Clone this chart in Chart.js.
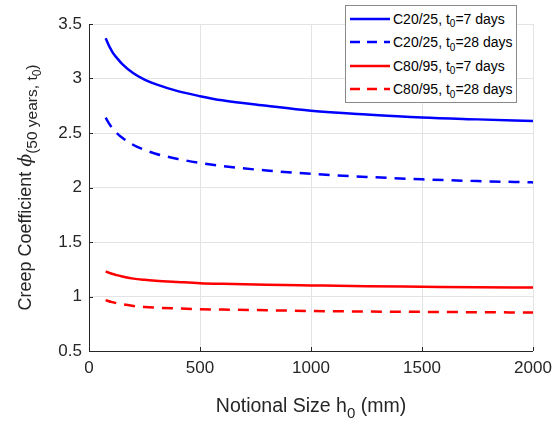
<!DOCTYPE html>
<html>
<head>
<meta charset="utf-8">
<script src="https://cdn.jsdelivr.net/npm/chart.js@4"></script>
<style>
  html, body { margin: 0; padding: 0; background: #fff; }
  #wrap { position: relative; width: 560px; height: 428px; }
  #legend {
    position: absolute; left: 345px; top: 5px; width: 172px; height: 98px;
    border: 1px solid #8a8a8a; background: #fff; box-sizing: border-box;
    font-family: "Liberation Sans", Arial, sans-serif; font-size: 14px; color: #000;
    padding-top: 1px;
  }
  #legend .row { height: 23.5px; display: flex; align-items: center; white-space: nowrap; }
  #legend svg { margin-left: 3px; margin-right: 2px; }
  #legend .sub { font-size: 10px; position: relative; top: 5px; }
</style>
</head>
<body>
<div id="wrap">
  <canvas id="creepChart" width="560" height="428"></canvas>
  <div id="legend"></div>
</div>
<script>
// Notional size h0 (mm) - sample positions
const h0 = [75, 90, 100, 110, 125, 150, 200, 250, 300, 400, 500, 600, 800, 1000, 1250, 1500, 1750, 2000];

// Creep coefficient phi(50 years, t0)
const c2025_t7  = [3.37, 3.30, 3.263, 3.228, 3.19, 3.132, 3.048, 2.99, 2.948, 2.884, 2.838, 2.80, 2.75, 2.705, 2.67, 2.642, 2.625, 2.61];
const c2025_t28 = [2.64, 2.588, 2.558, 2.532, 2.50, 2.456, 2.39, 2.345, 2.31, 2.262, 2.225, 2.196, 2.156, 2.125, 2.097, 2.075, 2.059, 2.047];
const c8095_t7  = [1.229, 1.218, 1.211, 1.205, 1.196, 1.183, 1.164, 1.153, 1.145, 1.133, 1.122, 1.116, 1.108, 1.102, 1.095, 1.09, 1.085, 1.082];
const c8095_t28 = [0.967, 0.957, 0.951, 0.946, 0.939, 0.929, 0.913, 0.904, 0.898, 0.89, 0.884, 0.88, 0.874, 0.867, 0.862, 0.859, 0.856, 0.853];

const xTicks = [0, 500, 1000, 1500, 2000];
const yTicks = [0.5, 1, 1.5, 2, 2.5, 3, 3.5];

const seriesInfo = [
    { name: 'C20/25', t0: '7',  data: c2025_t7,  color: '#0000ff', dash: [] },
    { name: 'C20/25', t0: '28', data: c2025_t28, color: '#0000ff', dash: [11, 8] },
    { name: 'C80/95', t0: '7',  data: c8095_t7,  color: '#ff0000', dash: [] },
    { name: 'C80/95', t0: '28', data: c8095_t28, color: '#ff0000', dash: [11, 8] }
];

const FONT = '"Liberation Sans", Arial, sans-serif';
const AXIS_COLOR = '#262626';

// ----------------------------------------------------
// HTML legend (subscripts need real markup)
// ----------------------------------------------------
const legendEl = document.getElementById('legend');
seriesInfo.forEach(s => {
    const dashAttr = s.dash.length ? ' stroke-dasharray="10 7"' : '';
    legendEl.insertAdjacentHTML('beforeend',
        '<div class="row"><svg width="42" height="6"><line x1="1" y1="3" x2="41" y2="3" stroke="' + s.color +
        '" stroke-width="2.5"' + dashAttr + '/></svg>' +
        s.name + ', t<span class="sub">0</span>=' + s.t0 + ' days</div>');
});

// ----------------------------------------------------
// Axis titles and inner tick marks (MATLAB style)
// ----------------------------------------------------
const axisDecor = {
    id: 'axisDecor',
    afterDraw(chart) {
        const ctx = chart.ctx;
        const area = chart.chartArea;
        const xs = chart.scales.x, ys = chart.scales.y;
        ctx.save();

        // axis lines + inward ticks
        ctx.strokeStyle = AXIS_COLOR;
        ctx.lineWidth = 1;
        ctx.beginPath();
        ctx.moveTo(area.left + 0.5, area.top);
        ctx.lineTo(area.left + 0.5, area.bottom + 0.5);
        ctx.lineTo(area.right, area.bottom + 0.5);
        xTicks.forEach(v => {
            const px = Math.round(xs.getPixelForValue(v)) + 0.5;
            ctx.moveTo(px, area.bottom);
            ctx.lineTo(px, area.bottom - 4);
        });
        yTicks.forEach(v => {
            const py = Math.round(ys.getPixelForValue(v)) + 0.5;
            ctx.moveTo(area.left, py);
            ctx.lineTo(area.left + 4, py);
        });
        ctx.stroke();

        ctx.fillStyle = AXIS_COLOR;
        ctx.textBaseline = 'alphabetic';

        // x title: Notional Size h0 (mm)
        const bigX = '19.5px ' + FONT, smallX = '15px ' + FONT;
        ctx.font = bigX;
        const p1 = 'Notional Size h', p3 = ' (mm)';
        const w1 = ctx.measureText(p1).width, w3 = ctx.measureText(p3).width;
        ctx.font = smallX;
        const w2 = ctx.measureText('0').width;
        let x0 = (area.left + area.right) / 2 - (w1 + w2 + w3) / 2;
        const base = 412;
        ctx.font = bigX; ctx.fillText(p1, x0, base);
        ctx.font = smallX; ctx.fillText('0', x0 + w1, base + 6);
        ctx.font = bigX; ctx.fillText(p3, x0 + w1 + w2, base);

        // y title: Creep Coefficient phi_(50 years, t0)
        ctx.translate(31, (area.top + area.bottom) / 2);
        ctx.rotate(-Math.PI / 2);
        const parts = [
            { t: 'Creep Coefficient ', f: '18px ' + FONT, dy: 0 },
            { t: '\u03d5', f: 'italic 19px "DejaVu Serif", serif', dy: 0 },
            { t: '(50 years, t', f: '15.5px ' + FONT, dy: 6 },
            { t: '0', f: '12px ' + FONT, dy: 10 },
            { t: ')', f: '15.5px ' + FONT, dy: 6 }
        ];
        let total = 0;
        parts.forEach(p => { ctx.font = p.f; p.w = ctx.measureText(p.t).width; total += p.w; });
        let cx = -total / 2;
        parts.forEach(p => {
            ctx.font = p.f;
            ctx.fillText(p.t, cx, p.dy);
            cx += p.w;
        });
        ctx.restore();
    }
};

const ctx1 = document.getElementById('creepChart').getContext('2d');
const creepChart = new Chart(ctx1, {
    type: 'line',
    data: {
        datasets: seriesInfo.map(s => ({
            label: s.name + ', t0=' + s.t0 + ' days',
            data: h0.map((x, i) => ({ x: x, y: s.data[i] })),
            borderColor: s.color,
            backgroundColor: s.color,
            borderDash: s.dash,
            borderWidth: 2.5,
            pointRadius: 0,
            cubicInterpolationMode: 'monotone',
            fill: false
        }))
    },
    options: {
        responsive: false,
        animation: false,
        layout: { padding: { left: 0, top: 24, right: 27, bottom: 0 } },
        plugins: {
            legend: { display: false },
            tooltip: { enabled: false }
        },
        scales: {
            x: {
                type: 'linear',
                min: 0, max: 2000,
                afterBuildTicks: s => { s.ticks = xTicks.map(v => ({ value: v })); },
                afterFit: s => { s.height = 77; },
                grid: { color: '#e3e3e3', drawTicks: false },
                border: { display: false },
                ticks: {
                    color: AXIS_COLOR, font: { family: FONT, size: 17 }, padding: 7, maxRotation: 0,
                    callback: v => String(v)
                }
            },
            y: {
                min: 0.5, max: 3.5,
                afterBuildTicks: s => { s.ticks = yTicks.map(v => ({ value: v })); },
                afterFit: s => { s.width = 89; },
                grid: { color: '#e3e3e3', drawTicks: false },
                border: { display: false },
                ticks: {
                    color: AXIS_COLOR, font: { family: FONT, size: 17 }, padding: 7,
                    callback: v => String(v)
                }
            }
        }
    },
    plugins: [axisDecor]
});
</script>
</body>
</html>
